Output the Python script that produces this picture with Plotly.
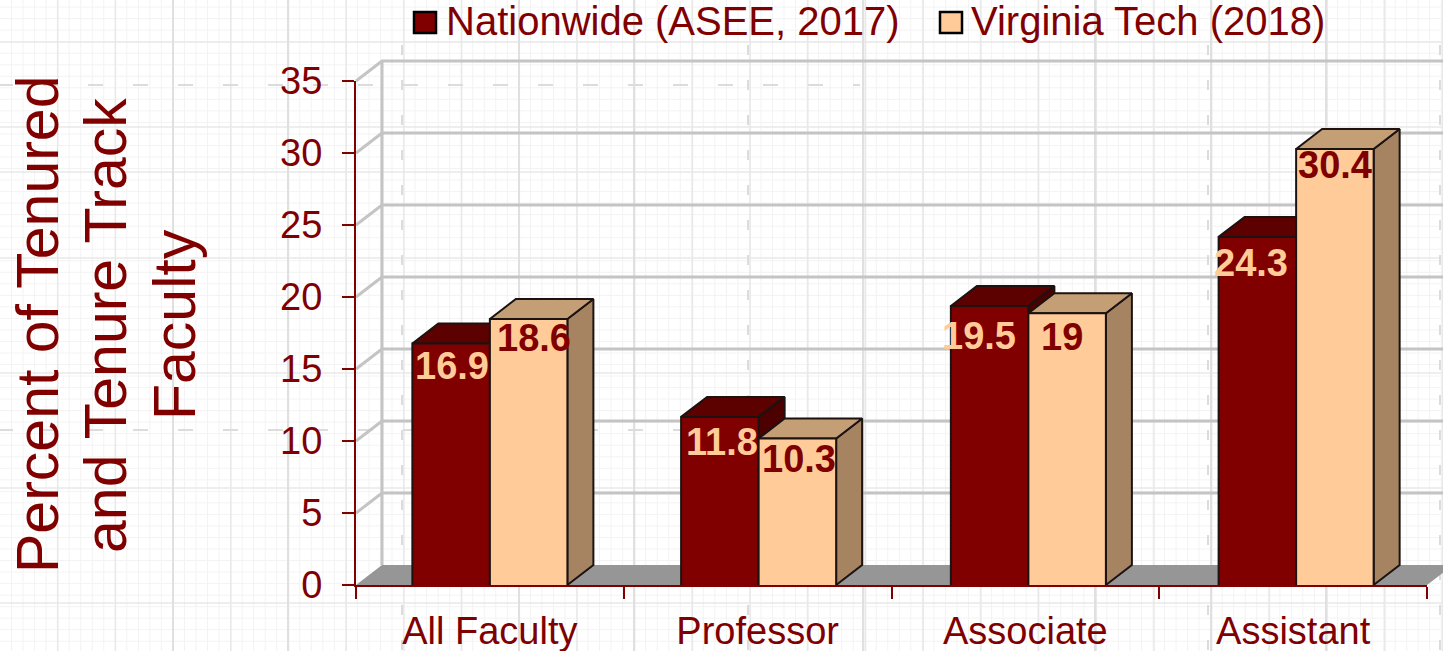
import plotly.graph_objects as go

# Data
categories = ["All Faculty", "Professor", "Associate", "Assistant"]
nationwide = [16.9, 11.8, 19.5, 24.3]
virginia_tech = [18.6, 10.3, 19, 30.4]
y_ticks = [0, 5, 10, 15, 20, 25, 30, 35]

W, H = 1443, 651
MAROON = "#800000"
PEACH = "#FFCC99"
EDGE = "#1c1212"
FONT = "Liberation Sans"

# plot box in pixels
LEFT, RIGHT, TOP, BOTTOM = 356, 1427, 81, 585
BAR_W = 0.2895
X_PX = (RIGHT - LEFT) / len(categories)
Y_PX = (BOTTOM - TOP) / max(y_ticks)
# fake 3d depth, as in the old Excel style chart
DX = 26 / X_PX
DY = 20 / Y_PX
# the original draws bars a little off the tick scale
BAR_DROP = -1.8 / Y_PX
BAR_SHIFT = [0, 1 / X_PX, 3 / X_PX, 3 / X_PX]


def px_x(p):
    return p / W


def px_y(p):
    return 1 - p / H


def depth_faces(values, first_bar):
    # side and top face polygons of a series, None separated
    sx, sy, tx, ty = [], [], [], []
    for i, val in enumerate(values):
        v = val + BAR_DROP
        left = i + BAR_SHIFT[i] - BAR_W + first_bar * BAR_W
        right = left + BAR_W
        sx += [right, right + DX, right + DX, right, right, None]
        sy += [0, DY, v + DY, v, 0, None]
        tx += [left, left + DX, right + DX, right, left, None]
        ty += [v, v + DY, v + DY, v, v, None]
    return sx, sy, tx, ty


def poly(x, y, fill):
    return go.Scatter(x=x, y=y, mode="lines", fill="toself", fillcolor=fill,
                      line=dict(color=EDGE, width=2), xaxis="x", yaxis="y",
                      showlegend=False, hoverinfo="skip")


fig = go.Figure()

# ---- floor and back wall ----
x_end = -0.5 + (RIGHT - LEFT) / X_PX
fig.add_trace(go.Scatter(x=[-0.5, -0.5 + DX, x_end + DX, x_end, -0.5], y=[0, DY, DY, 0, 0],
                         mode="lines", fill="toself", fillcolor="#969696", line=dict(width=0),
                         xaxis="x", yaxis="y", showlegend=False, hoverinfo="skip"))
wall_x, wall_y = [], []
for t in y_ticks[1:]:
    wall_x += [-0.5, -0.5 + DX, x_end + DX, None]
    wall_y += [t, t + DY, t + DY, None]
wall_x += [-0.5 + DX, -0.5 + DX, None]
wall_y += [DY, max(y_ticks) + DY, None]
fig.add_trace(go.Scatter(x=wall_x, y=wall_y, mode="lines", line=dict(color="#c4c4c4", width=3),
                         xaxis="x", yaxis="y", showlegend=False, hoverinfo="skip"))

# ---- side and top faces, under the front bars ----
sx, sy, tx, ty = depth_faces(nationwide, 0)
fig.add_trace(poly(sx, sy, "#4d0000"))
fig.add_trace(poly(tx, ty, "#5c0000"))
sx, sy, tx, ty = depth_faces(virginia_tech, 1)
fig.add_trace(poly(sx, sy, "#A68461"))
fig.add_trace(poly(tx, ty, "#C49F76"))

# ---- front bars ----
xs = [i + BAR_SHIFT[i] for i in range(len(categories))]
ticks_x = list(range(len(categories)))
fig.add_trace(go.Bar(x=xs, y=nationwide, base=BAR_DROP, name="Nationwide (ASEE, 2017)", xaxis="x2", yaxis="y2",
                     marker=dict(color=MAROON, line=dict(color=EDGE, width=2)), showlegend=False))
fig.add_trace(go.Bar(x=xs, y=virginia_tech, base=BAR_DROP, name="Virginia Tech (2018)", xaxis="x2", yaxis="y2",
                     marker=dict(color=PEACH, line=dict(color=EDGE, width=2)), showlegend=False))

# ---- paper background ----
shapes = []
fine_v = [11.53 * k for k in range(1, 126)]
fine_h = [7.1 + 11.53 * k for k in range(0, 57)]
mid_v = [57.7 * k for k in range(1, 26)]
mid_h = [42, 127, 172, 258, 373, 488, 603]
major_v = [173, 288, 519, 634, 863, 1095, 1211, 1326]
for v_list, h_list, col, wd in [(fine_v, fine_h, "#f3f3f3", 1), (mid_v, mid_h, "#e8e8e8", 1.5), (major_v, [], "#e0e0e0", 2)]:
    for p in v_list:
        shapes.append(dict(type="line", xref="paper", yref="paper", x0=px_x(p), x1=px_x(p), y0=0, y1=1,
                           line=dict(color=col, width=wd), layer="below"))
    for p in h_list:
        shapes.append(dict(type="line", xref="paper", yref="paper", x0=0, x1=1, y0=px_y(p), y1=px_y(p),
                           line=dict(color=col, width=wd), layer="below"))
for p in [85, 430]:
    shapes.append(dict(type="line", xref="paper", yref="paper", x0=px_x(-2), x1=px_x(860), y0=px_y(p), y1=px_y(p),
                       line=dict(color="#dcdcdc", width=2, dash="15px 30px"), layer="below"))
for p in [402, 748, 1208, 1440]:
    shapes.append(dict(type="line", xref="paper", yref="paper", x0=px_x(p), x1=px_x(p), y0=px_y(45), y1=0,
                       line=dict(color="#dcdcdc", width=2, dash="10px 25px"), layer="below"))

# ---- legend swatches ----
for x0, col in [(414, MAROON), (940, PEACH)]:
    shapes.append(dict(type="rect", xref="paper", yref="paper", x0=px_x(x0), x1=px_x(x0 + 22),
                       y0=px_y(33), y1=px_y(12), fillcolor=col, line=dict(color="#000000", width=2.5)))

annotations = []
for x0, label in [(444, "Nationwide (ASEE, 2017)"), (969, "Virginia Tech (2018)")]:
    annotations.append(dict(xref="paper", yref="paper", x=px_x(x0), y=px_y(21), text=label, showarrow=False,
                            xanchor="left", yanchor="middle", font=dict(family=FONT, size=40, color=MAROON)))

# ---- y title, three lines ----
for px, line in [(38, "Percent of Tenured"), (106, "and Tenure Track"), (175, "Faculty")]:
    annotations.append(dict(xref="paper", yref="paper", x=px_x(px), y=px_y(325), text=line, showarrow=False,
                            textangle=-90, xanchor="center", yanchor="middle",
                            font=dict(family=FONT, size=59, color=MAROON)))

# ---- value labels, hand nudged like in the original ----
nudge_nat = [(1, 24), (2, 27), (-11, 32), (-6, 28)]
nudge_vt = [(5, 21), (2, 22), (-5, 26), (0, 18)]
for i in range(len(categories)):
    for vals, nudge, offset, col in [(nationwide, nudge_nat, -BAR_W / 2, PEACH),
                                     (virginia_tech, nudge_vt, BAR_W / 2, MAROON)]:
        annotations.append(dict(xref="x2", yref="y2", x=xs[i] + offset, y=vals[i], text=str(vals[i]), showarrow=False,
                                xshift=nudge[i][0], yshift=-nudge[i][1], xanchor="center", yanchor="middle",
                                font=dict(family=FONT, size=38, color=col, weight="bold")))

fig.update_layout(
    template="none",
    width=W, height=H,
    margin=dict(l=0, r=0, t=0, b=0, pad=0),
    paper_bgcolor="#ffffff",
    plot_bgcolor="rgba(0,0,0,0)",
    barmode="group",
    bargap=1 - 2 * BAR_W,
    bargroupgap=0,
    shapes=shapes,
    annotations=annotations,
    showlegend=False,
    # full bleed axes for the 3d faces
    xaxis=dict(domain=[0, 1], range=[-0.5 - LEFT / X_PX, -0.5 + (W - LEFT) / X_PX], visible=False, fixedrange=True),
    yaxis=dict(domain=[0, 1], range=[(BOTTOM - H) / Y_PX, BOTTOM / Y_PX], visible=False, fixedrange=True),
    # real axes for bars
    xaxis2=dict(
        domain=[LEFT / W, RIGHT / W], range=[-0.5, len(categories) - 0.5], anchor="y2", automargin=False,
        tickvals=ticks_x, ticktext=categories, ticks="", showgrid=False, zeroline=False,
        showline=True, linecolor=MAROON, linewidth=2,
        tickfont=dict(family=FONT, size=38, color=MAROON), ticklabelstandoff=11,
        minor=dict(tickvals=[i - 0.5 for i in range(len(categories) + 1)], ticks="outside",
                   ticklen=12, tickwidth=2, tickcolor=MAROON, showgrid=False),
    ),
    yaxis2=dict(
        domain=[1 - BOTTOM / H, 1 - TOP / H], range=[0, max(y_ticks)], anchor="x2", automargin=False,
        tickvals=y_ticks, ticks="outside", ticklen=12, tickwidth=2, tickcolor=MAROON,
        showgrid=False, zeroline=False, showline=True, linecolor=MAROON, linewidth=2,
        tickfont=dict(family=FONT, size=38, color=MAROON), ticklabelstandoff=12,
    ),
)

fig.write_html("out.html", config=dict(displayModeBar=False),
               post_script="document.body.style.margin='0';")
